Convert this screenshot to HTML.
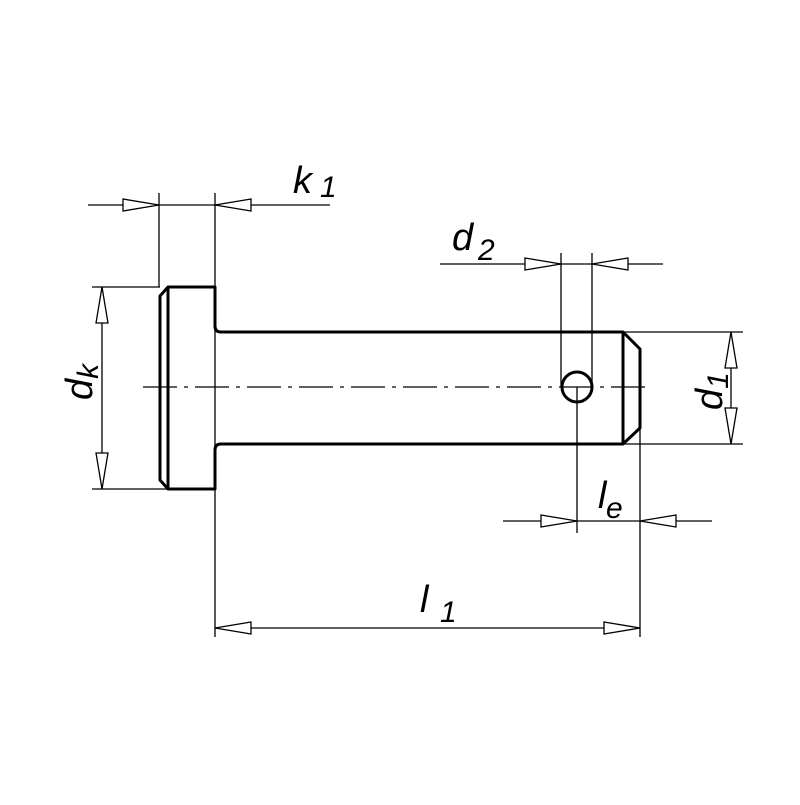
<!DOCTYPE html>
<html><head><style>html,body{margin:0;padding:0;background:#fff}</style></head>
<body>
<svg width="800" height="800" viewBox="0 0 800 800" xmlns="http://www.w3.org/2000/svg">
<rect width="800" height="800" fill="#fff"/>
<g fill="none" stroke="#000" stroke-width="1.3">
<!-- k1 -->
<line x1="159" y1="193" x2="159" y2="287"/>
<line x1="215" y1="193" x2="215" y2="637"/>
<line x1="88" y1="205" x2="330" y2="205"/>
<polygon points="123,199 159,205 123,211" fill="#fff"/>
<polygon points="251,199 215,205 251,211" fill="#fff"/>
<!-- dk -->
<line x1="92" y1="287" x2="160" y2="287"/>
<line x1="92" y1="489" x2="170" y2="489"/>
<line x1="102" y1="287" x2="102" y2="489"/>
<polygon points="96,323 102,287 108,323" fill="#fff"/>
<polygon points="96,453 102,489 108,453" fill="#fff"/>
<!-- d2 -->
<line x1="561" y1="253" x2="561" y2="387"/>
<line x1="592" y1="253" x2="592" y2="387"/>
<line x1="440" y1="264" x2="663" y2="264"/>
<polygon points="525,258 561,264 525,270" fill="#fff"/>
<polygon points="628,258 592,264 628,270" fill="#fff"/>
<!-- d1 -->
<line x1="623" y1="332" x2="743" y2="332"/>
<line x1="623" y1="444" x2="743" y2="444"/>
<line x1="731" y1="332" x2="731" y2="444"/>
<polygon points="725,368 731,332 737,368" fill="#fff"/>
<polygon points="725,408 731,444 737,408" fill="#fff"/>
<!-- le -->
<line x1="577" y1="387" x2="577" y2="533"/>
<line x1="640" y1="428" x2="640" y2="637"/>
<line x1="503" y1="521" x2="712" y2="521"/>
<polygon points="541,515 577,521 541,527" fill="#fff"/>
<polygon points="676,515 640,521 676,527" fill="#fff"/>
<!-- l1 -->
<line x1="215" y1="628" x2="640" y2="628"/>
<polygon points="251,622 215,628 251,634" fill="#fff"/>
<polygon points="604,622 640,628 604,634" fill="#fff"/>
<!-- centerline -->
<line x1="143" y1="387" x2="650" y2="387" stroke-dasharray="34,7,4,7"/>
</g>
<g fill="none" stroke="#000" stroke-width="3" stroke-linejoin="round">
<path d="M168,287 L215,287 L215,326 Q215,332 221,332 L623,332 L640,349 L640,428 L623,444 L221,444 Q215,444 215,450 L215,489 L168,489 L160,480 L160,296 Z"/>
<line x1="168" y1="287" x2="168" y2="489"/>
<line x1="623" y1="332" x2="623" y2="444"/>
<circle cx="577" cy="387" r="15"/>
</g>
<g font-family="Liberation Sans, sans-serif" font-style="italic" fill="#000" font-size="38">
<text x="293" y="193">k</text><text x="320" y="197" font-size="30">1</text>
<text x="452" y="250">d</text><text x="478" y="260" font-size="30">2</text>
<text x="598" y="508">l</text><text x="606" y="518" font-size="30">e</text>
<text x="420" y="612">l</text><text x="440" y="622" font-size="30">1</text>
<text transform="translate(92,400) rotate(-90)">d<tspan font-size="30" dy="6">k</tspan></text>
<text transform="translate(722,410) rotate(-90)">d<tspan font-size="30" dy="6">1</tspan></text>
</g>
</svg>
</body></html>
